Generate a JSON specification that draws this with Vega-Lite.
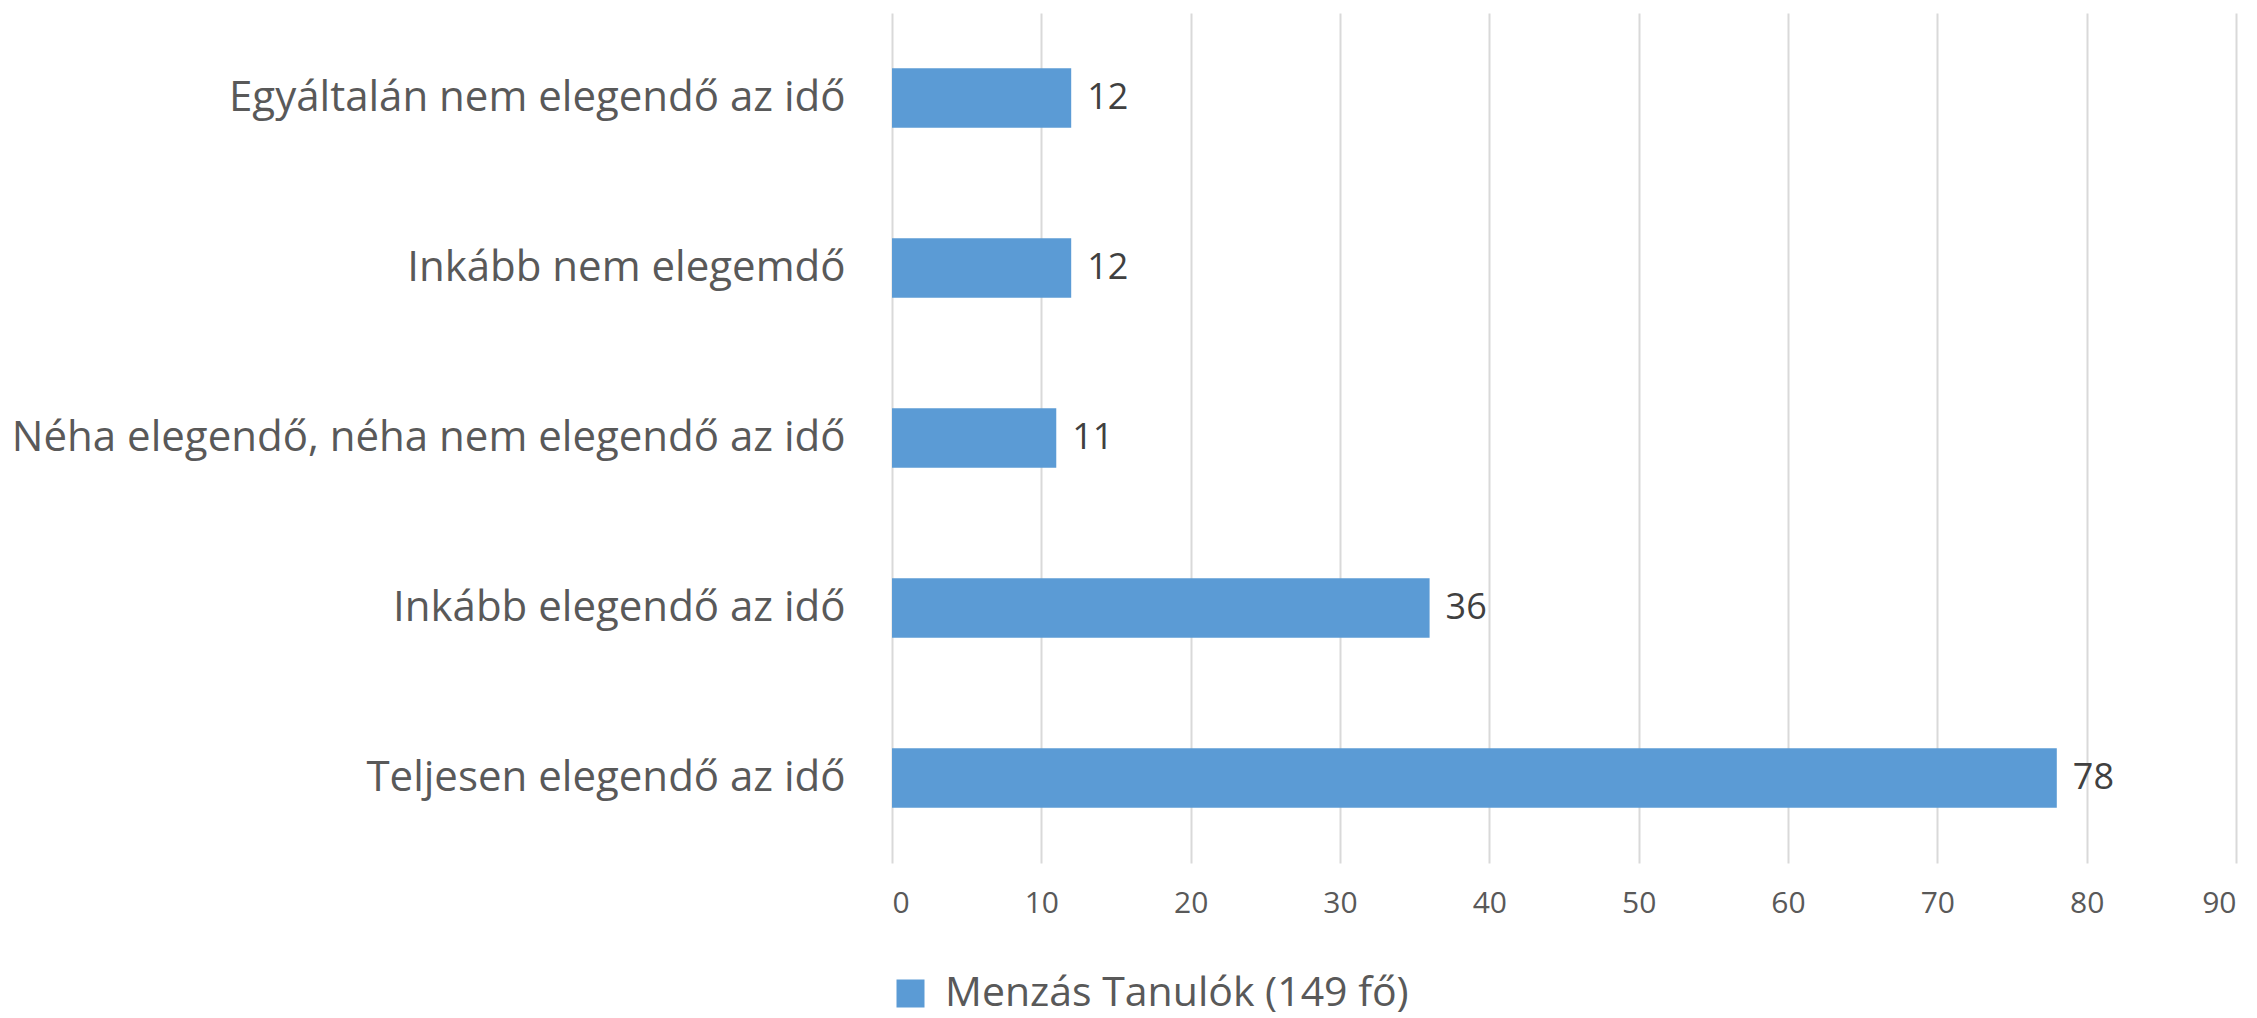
{
  "$schema": "https://vega.github.io/schema/vega-lite/v6.json",
  "autosize": "none",
  "width": 1344,
  "height": 850,
  "padding": {"left": 892, "top": 13, "right": 21, "bottom": 155},
  "background": "white",
  "config": {
    "view": {"stroke": null},
    "font": "Open Sans"
  },
  "data": {
    "values": [
      {"category": "Egyáltalán nem elegendő az idő", "value": 12, "series": "Menzás Tanulók (149 fő)"},
      {"category": "Inkább nem elegemdő", "value": 12, "series": "Menzás Tanulók (149 fő)"},
      {"category": "Néha elegendő, néha nem elegendő az idő", "value": 11, "series": "Menzás Tanulók (149 fő)"},
      {"category": "Inkább elegendő az idő", "value": 36, "series": "Menzás Tanulók (149 fő)"},
      {"category": "Teljesen elegendő az idő", "value": 78, "series": "Menzás Tanulók (149 fő)"}
    ]
  },
  "encoding": {
    "y": {
      "field": "category",
      "type": "nominal",
      "sort": null,
      "scale": {"paddingInner": 0.65, "paddingOuter": 0.325},
      "axis": {
        "title": null,
        "domain": false,
        "ticks": false,
        "tickSize": 0,
        "grid": false,
        "labelFontSize": 42,
        "labelColor": "#595959",
        "labelPadding": 47,
        "labelLimit": 1000,
        "labelFont": "Open Sans"
      }
    },
    "x": {
      "field": "value",
      "type": "quantitative",
      "scale": {"domain": [0, 90], "nice": false},
      "axis": {
        "title": null,
        "domain": false,
        "ticks": false,
        "tickSize": 0,
        "values": [0, 10, 20, 30, 40, 50, 60, 70, 80, 90],
        "grid": true,
        "gridColor": "#d9d9d9",
        "gridWidth": 2,
        "labelFontSize": 30,
        "labelColor": "#595959",
        "labelPadding": 25,
        "labelFont": "Open Sans"
      }
    }
  },
  "layer": [
    {
      "mark": {"type": "bar"},
      "encoding": {
        "color": {
          "field": "series",
          "type": "nominal",
          "scale": {"range": ["#5b9bd5"]},
          "legend": {
            "title": null,
            "orient": "none",
            "legendX": -2,
            "legendY": 960,
            "direction": "horizontal",
            "padding": 0,
            "symbolType": "square",
            "symbolSize": 784,
            "symbolStrokeWidth": 0,
            "labelFontSize": 41,
            "labelColor": "#595959",
            "labelOffset": 14,
            "labelFont": "Open Sans",
            "labelLimit": 1000
          }
        }
      }
    },
    {
      "mark": {"type": "text", "align": "left", "baseline": "middle", "dx": 16, "fontSize": 36, "color": "#404040", "font": "Open Sans"},
      "encoding": {
        "text": {"field": "value", "type": "quantitative"}
      }
    }
  ]
}
